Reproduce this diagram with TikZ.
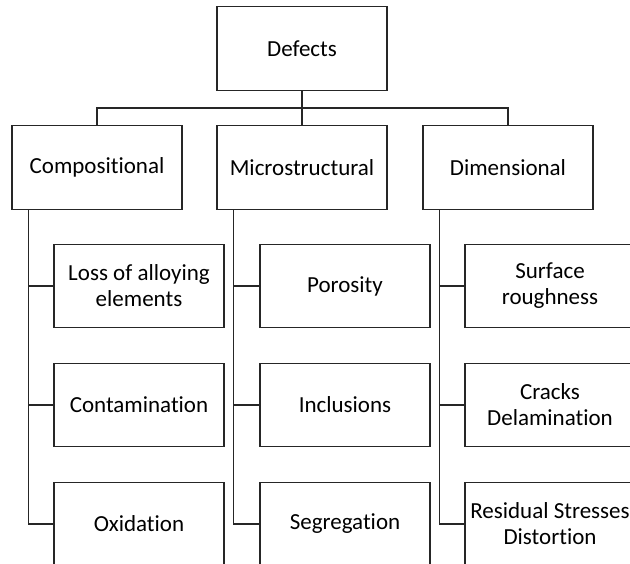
\documentclass[tikz,border=0pt]{standalone}
\usepackage{fontspec}
\setmainfont[Ligatures=NoCommon]{Carlito}
\tikzset{
  box/.style={draw=black!85, line width=1.2pt, minimum width=170pt, minimum height=83.5pt,
    inner sep=0pt, align=center, text=black, font=\fontsize{23}{26}\selectfont},
  link/.style={draw=black!85, line width=1.2pt}
}
\begin{document}
\begin{tikzpicture}[x=1pt,y=-1pt]
    \useasboundingbox (0,0) rectangle (630,564);
    \clip (0,0) rectangle (630,564);
    \node[box] (defects) at (302,48.5) {Defects};
    \node[box] (comp) at (97,167.5) {Compositional};
    \node[box] (micro) at (302,167.5) {Microstructural};
    \node[box] (dim) at (508,167.5) {Dimensional};
    \node[box] (loss) at (139,286) {Loss of alloying\\elements};
    \node[box] (contam) at (139,405) {Contamination};
    \node[box] (oxid) at (139,524) {Oxidation};
    \node[box] (poro) at (345,286) {Porosity};
    \node[box] (incl) at (345,405) {Inclusions};
    \node[box] (segr) at (345,524) {Segregation};
    \node[box] (rough) at (550,286) {Surface\\roughness};
    \node[box] (cracks) at (550,405) {Cracks\\Delamination};
    \node[box] (resid) at (550,524) {Residual Stresses\\Distortion};
    \coordinate (bus) at (302,108);
    \draw[link] (defects) -- (micro);
    \draw[link] (comp.north) |- (bus) -| (dim.north);
    \draw[link] ([xshift=17pt]comp.south west) |- (loss.west);
    \draw[link] ([xshift=17pt]comp.south west) |- (contam.west);
    \draw[link] ([xshift=17pt]comp.south west) |- (oxid.west);
    \draw[link] ([xshift=17pt]micro.south west) |- (poro.west);
    \draw[link] ([xshift=17pt]micro.south west) |- (incl.west);
    \draw[link] ([xshift=17pt]micro.south west) |- (segr.west);
    \draw[link] ([xshift=17pt]dim.south west) |- (rough.west);
    \draw[link] ([xshift=17pt]dim.south west) |- (cracks.west);
    \draw[link] ([xshift=17pt]dim.south west) |- (resid.west);
\end{tikzpicture}
\end{document}
